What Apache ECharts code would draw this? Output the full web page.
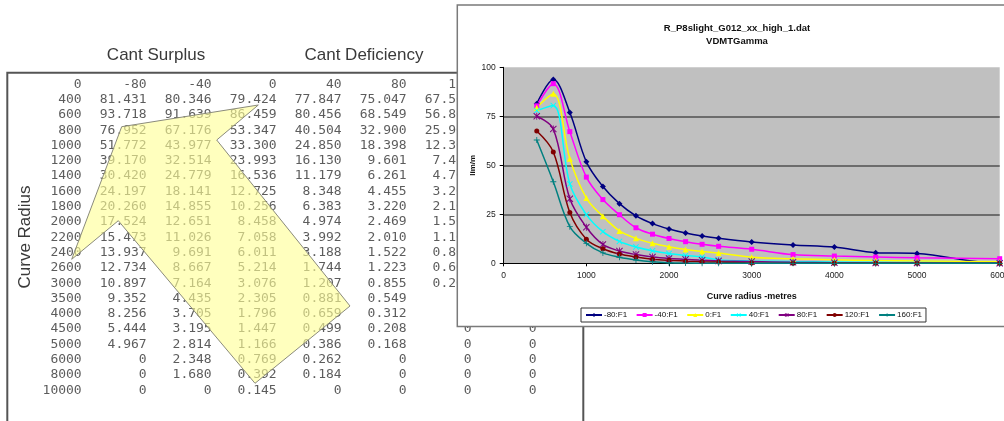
<!DOCTYPE html>
<html>
<head>
<meta charset="utf-8">
<script src="https://cdn.jsdelivr.net/npm/echarts@6/dist/echarts.min.js"></script>
<style>
  html, body { margin: 0; padding: 0; background: #ffffff; }
  #c { width: 1004px; height: 421px; }
</style>
</head>
<body>
<div id="c"></div>
<script>
// Curve radius (m) for each table row / chart point
const radii = [400, 600, 800, 1000, 1200, 1400, 1600, 1800, 2000, 2200, 2400, 2600, 3000, 3500, 4000, 4500, 5000, 6000, 8000, 10000];
// Cant surplus (negative) / deficiency (positive) levels, one column each
const cantLevels = [-80, -40, 0, 40, 80, 120, 160];

// VDMTGamma values per cant level
const gammaM80 = [81.431, 93.718, 76.952, 51.772, 39.170, 30.420, 24.197, 20.260, 17.524, 15.473, 13.937, 12.734, 10.897, 9.352, 8.256, 5.444, 4.967, 0, 0, 0];
const gammaM40 = [80.346, 91.639, 67.176, 43.977, 32.514, 24.779, 18.141, 14.855, 12.651, 11.026, 9.691, 8.667, 7.164, 4.435, 3.705, 3.195, 2.814, 2.348, 1.680, 0];
const gamma0   = [79.424, 86.459, 53.347, 33.300, 23.993, 16.536, 12.725, 10.256, 8.458, 7.058, 6.011, 5.214, 3.076, 2.305, 1.796, 1.447, 1.166, 0.769, 0.392, 0.145];
const gammaP40 = [77.847, 80.456, 40.504, 24.850, 16.130, 11.179, 8.348, 6.383, 4.974, 3.992, 3.188, 1.744, 1.207, 0.881, 0.659, 0.499, 0.386, 0.262, 0.184, 0];
const gammaP80 = [75.047, 68.549, 32.900, 18.398, 9.601, 6.261, 4.455, 3.220, 2.469, 2.010, 1.522, 1.223, 0.855, 0.549, 0.312, 0.208, 0.168, 0, 0, 0];
const gammaP120 = [67.5, 56.8, 25.9, 12.3, 7.4, 4.7, 3.2, 2.1, 1.5, 1.1, 0.8, 0.6, 0.2, 0, 0, 0, 0, 0, 0, 0];
const gammaP160 = [62.9, 41.6, 18.7, 10.2, 5.3, 3.1, 1.7, 0.8, 0.3, 0.1, 0, 0, 0, 0, 0, 0, 0, 0, 0, 0];

const columns = [gammaM80, gammaM40, gamma0, gammaP40, gammaP80, gammaP120, gammaP160];
const seriesNames = ['-80:F1', '-40:F1', '0:F1', '40:F1', '80:F1', '120:F1', '160:F1'];
const seriesColors = ['#000080', '#ff00ff', '#ffff00', '#00ffff', '#800080', '#800000', '#008080'];

// Excel-style marker shapes
const X_MARK = 'path://M1,0L5,4L9,0L10,1L6,5L10,9L9,10L5,6L1,10L0,9L4,5L0,1Z';
const STAR_MARK = 'path://M1,0L4.4,3.4V0H5.6V3.4L9,0L10,1L6,5L10,9L9,10L5.6,6.6V10H4.4V6.6L1,10L0,9L4,5L0,1Z';
const PLUS_MARK = 'path://M4.3,0H5.7V4.3H10V5.7H5.7V10H4.3V5.7H0V4.3H4.3Z';
const seriesSymbols = ['diamond', 'rect', 'triangle', X_MARK, STAR_MARK, 'circle', PLUS_MARK];
const seriesSymbolSizes = [6, 5, 6, 6, 7, 5, 6];

// Table cells: [column, row, text]; column 0 holds the radius, row 0 the cant levels
function fmt(v) { return v === 0 ? '0' : v.toFixed(3); }
const tableCells = [[0, 0, '0']];
cantLevels.forEach((c, i) => tableCells.push([i + 1, 0, String(c)]));
radii.forEach((r, ri) => {
  tableCells.push([0, ri + 1, String(r)]);
  columns.forEach((col, ci) => tableCells.push([ci + 1, ri + 1, fmt(col[ri])]));
});

const chart = echarts.init(document.getElementById('c'), null, { renderer: 'canvas' });

const CHART_FONT = '"Liberation Sans", Arial, sans-serif';
const TOP = 2; // layer of the embedded line chart

const lineSeries = columns.map((col, i) => ({
  name: seriesNames[i],
  type: 'line',
  xAxisIndex: 1,
  yAxisIndex: 1,
  zlevel: TOP,
  smooth: 0.35,
  data: radii.map((r, k) => [r, col[k]]),
  symbol: seriesSymbols[i],
  symbolSize: seriesSymbolSizes[i],
  showAllSymbol: true,
  color: seriesColors[i],
  lineStyle: { width: 1.5, color: seriesColors[i] },
  itemStyle: { color: seriesColors[i] },
  emphasis: { disabled: true },
  animation: false
}));

chart.setOption({
  animation: false,
  title: {
    text: 'R_P8slight_G012_xx_high_1.dat\nVDMTGamma',
    left: 732,
    top: 17,
    textAlign: 'center',
    zlevel: TOP,
    textStyle: { fontFamily: CHART_FONT, fontSize: 9.5, fontWeight: 'bold', color: '#111', lineHeight: 13 }
  },
  legend: {
    zlevel: TOP,
    data: seriesNames.map(n => ({ name: n, itemStyle: {}, symbolSize: 4 })),
    left: 581,
    top: 308,
    orient: 'horizontal',
    itemWidth: 16,
    itemHeight: 5,
    itemGap: 8.5,
    padding: [3, 4, 3, 4],
    borderColor: '#333',
    borderWidth: 1,
    textStyle: { fontFamily: CHART_FONT, fontSize: 8, color: '#111', padding: [0, 0, 0, -3] }
  },
  grid: [
    // numeric table
    { left: 81.7, top: 84.3, width: 455, height: 306, show: false },
    // line chart plot area
    { left: 503.7, top: 67.3, width: 496, height: 196, show: true, backgroundColor: '#c0c0c0', borderWidth: 0, zlevel: TOP,
      outerBoundsMode: 'none' }
  ],
  xAxis: [
    { gridIndex: 0, type: 'value', min: 0, max: 7, show: false },
    {
      gridIndex: 1, type: 'value', min: 0, max: 6000, interval: 1000, zlevel: TOP,
      name: 'Curve radius -metres', nameLocation: 'middle', nameGap: 29,
      nameTextStyle: { fontFamily: CHART_FONT, fontSize: 9, fontWeight: 'bold', color: '#111' },
      axisLine: { lineStyle: { color: '#000', width: 1 } },
      axisTick: { show: true, length: 3, lineStyle: { color: '#000' } },
      axisLabel: { fontFamily: CHART_FONT, fontSize: 8.5, color: '#222', margin: 8, formatter: v => String(v),
        alignMinLabel: 'center', alignMaxLabel: 'center' },
      splitLine: { show: false }
    }
  ],
  yAxis: [
    { gridIndex: 0, type: 'value', min: 0, max: 20, inverse: true, show: false },
    {
      gridIndex: 1, type: 'value', min: 0, max: 100, interval: 25, zlevel: TOP,
      name: 'lim/m', nameLocation: 'middle', nameGap: 27, nameRotate: 90,
      nameTextStyle: { fontFamily: CHART_FONT, fontSize: 8, fontWeight: 'bold', color: '#111' },
      axisLine: { show: true, lineStyle: { color: '#000', width: 1 } },
      axisTick: { show: true, length: 4, lineStyle: { color: '#000' } },
      axisLabel: { fontFamily: CHART_FONT, fontSize: 8.5, color: '#222', margin: 8, formatter: v => String(v) },
      splitLine: { show: true, showMinLine: false, showMaxLine: false, lineStyle: { color: '#505050', width: 1.5 } }
    }
  ],
  series: [
    {
      name: 'table',
      type: 'scatter',
      xAxisIndex: 0,
      yAxisIndex: 0,
      symbolSize: 0,
      silent: true,
      data: tableCells,
      label: {
        show: true,
        position: 'inside',
        align: 'right',
        verticalAlign: 'middle',
        formatter: p => p.value[2],
        fontFamily: '"DejaVu Sans Mono", "Liberation Mono", monospace',
        fontSize: 13,
        color: '#333'
      }
    }
  ].concat(lineSeries),
  graphic: [
    // table frame
    { type: 'rect', zlevel: 0, shape: { x: 7.3, y: 72.7, width: 576, height: 400 },
      style: { fill: null, stroke: '#555', lineWidth: 2 } },
    { type: 'text', zlevel: 0, x: 156, y: 55,
      style: { text: 'Cant Surplus', fontFamily: CHART_FONT, fontSize: 17, fill: '#3a3a3a', align: 'center', verticalAlign: 'middle' } },
    { type: 'text', zlevel: 0, x: 364, y: 55,
      style: { text: 'Cant Deficiency', fontFamily: CHART_FONT, fontSize: 17, fill: '#3a3a3a', align: 'center', verticalAlign: 'middle' } },
    { type: 'text', zlevel: 0, x: 25, y: 237, rotation: Math.PI / 2,
      style: { text: 'Curve Radius', fontFamily: CHART_FONT, fontSize: 17, fill: '#3a3a3a', align: 'center', verticalAlign: 'middle' } },
    // bent highlight arrow over the table
    { type: 'polygon', zlevel: 1,
      shape: { points: [[121.7, 126.7], [258.3, 105], [216.7, 140], [350, 306], [255, 383.3], [118.3, 220.7], [71.7, 259.3]] },
      style: { fill: 'rgba(255,255,150,0.62)', stroke: '#8a8a7a', lineWidth: 1 } },
    // embedded chart area
    { type: 'rect', zlevel: 1, shape: { x: 457.3, y: 5, width: 600, height: 321.5 },
      style: { fill: '#ffffff', stroke: '#7a7a7a', lineWidth: 1.5 } }
  ]
});
</script>
</body>
</html>
